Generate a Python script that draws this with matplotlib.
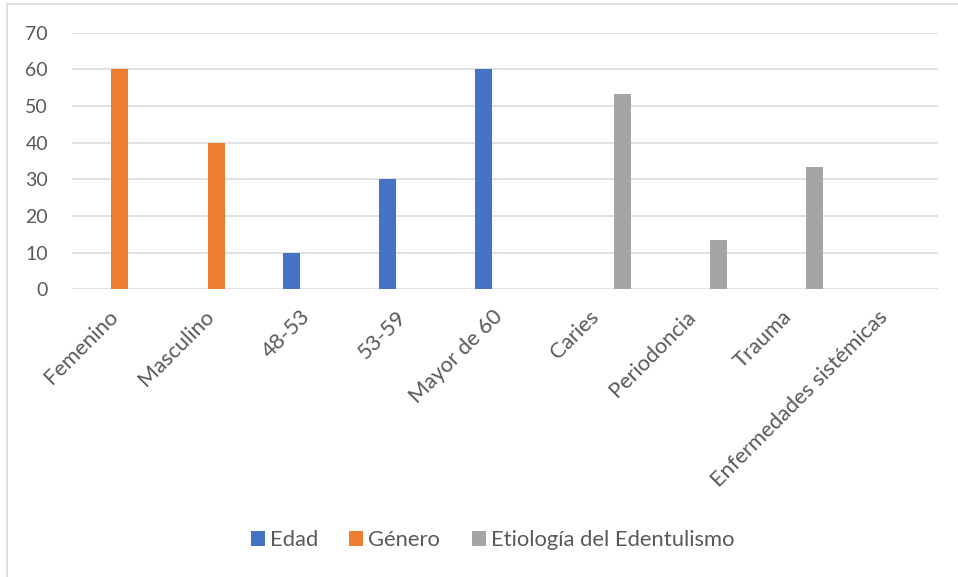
import numpy as np
import matplotlib
matplotlib.use("Agg")
import matplotlib.pyplot as plt
from matplotlib.patches import Rectangle
from matplotlib.transforms import ScaledTranslation

plt.rcParams['font.family'] = ['Lato', 'DejaVu Sans']

categories = ['Femenino', 'Masculino', '48-53', '53-59', 'Mayor de 60',
              'Caries', 'Periodoncia', 'Trauma', 'Enfermedades sistémicas']
series_names = ['Edad', 'Género', 'Etiología del Edentulismo']
edad = [np.nan, np.nan, 10, 30, 60, np.nan, np.nan, np.nan, np.nan]
genero = [60, 40, np.nan, np.nan, np.nan, np.nan, np.nan, np.nan, np.nan]
etiologia = [np.nan, np.nan, np.nan, np.nan, np.nan, 53.33, 13.33, 33.33, 0]
yticks = [0, 10, 20, 30, 40, 50, 60, 70]

colors = ['#4472C4', '#ED7D31', '#A5A5A5']
text_color = '#595959'
grid_color = '#D9D9D9'

W, H = 958, 577
fig = plt.figure(figsize=(W / 100, H / 100), dpi=100)
ax = fig.add_axes([71.7 / W, 1 - 289.3 / H, 866 / W, (289.3 - 32.7) / H])

x = np.arange(len(categories))
bw = 0.177
offsets = [-0.22, 0.0, 0.22]
for vals, off, c, name in zip([edad, genero, etiologia], offsets, colors, series_names):
    ax.bar(x + off, vals, width=bw, color=c, label=name, zorder=3)

ax.set_xlim(-0.5, len(categories) - 0.5)
ax.set_ylim(0, 70)
ax.set_yticks(yticks)
ax.yaxis.grid(True, color=grid_color, linewidth=1.1, zorder=0)
ax.set_axisbelow(True)
for s in ax.spines.values():
    s.set_visible(False)
ax.tick_params(axis='y', length=0, pad=17, labelsize=14, labelcolor=text_color)
ax.tick_params(axis='x', length=0, pad=12.5, labelsize=15.7, labelcolor=text_color)
ax.set_xticks(x)
ax.set_xticklabels(categories, rotation=45, ha='right', rotation_mode='anchor')
shift = ScaledTranslation(-12 / 100, 0, fig.dpi_scale_trans)
for lbl in ax.get_xticklabels():
    lbl.set_transform(lbl.get_transform() + shift)

leg = fig.legend(loc='center', bbox_to_anchor=(492.5 / W, 1 - 540 / H), ncol=3,
                 frameon=False, fontsize=15.8, handlelength=0.64, handleheight=0.64,
                 handletextpad=0.23, columnspacing=1.42, labelcolor=text_color)

fig.add_artist(Rectangle((7 / W, -0.1), 1.2, 1 - 4 / H + 0.1, transform=fig.transFigure,
                         fill=False, edgecolor=grid_color, linewidth=1.2))

fig.savefig('out.png', dpi=100)
